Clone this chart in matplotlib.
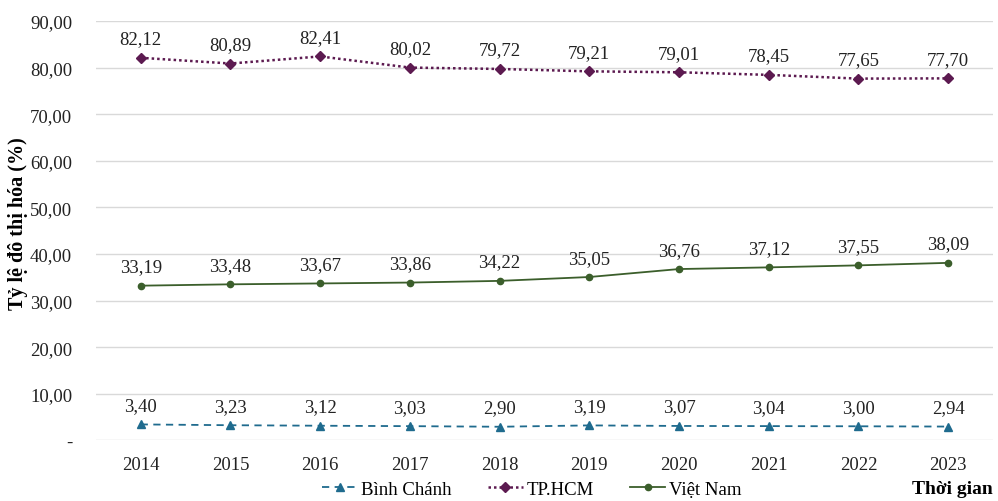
import matplotlib.pyplot as plt
import numpy as np

plt.rcParams['font.family'] = ['Liberation Serif', 'DejaVu Serif']

years = ['2014', '2015', '2016', '2017', '2018', '2019', '2020', '2021', '2022', '2023']
binh_chanh = [3.40, 3.23, 3.12, 3.03, 2.90, 3.19, 3.07, 3.04, 3.00, 2.94]
tphcm = [82.12, 80.89, 82.41, 80.02, 79.72, 79.21, 79.01, 78.45, 77.65, 77.70]
viet_nam = [33.19, 33.48, 33.67, 33.86, 34.22, 35.05, 36.76, 37.12, 37.55, 38.09]
y_ticks = [0, 10, 20, 30, 40, 50, 60, 70, 80, 90]

def fmt(v):
    return f'{v:.2f}'.replace('.', ',')

fig = plt.figure(figsize=(9.98, 5.02), dpi=100)
ax = fig.add_axes([0.096, 0.121, 0.899, 0.835])

x = np.arange(len(years))
c_bc = '#1f6b8e'
c_hcm = '#5c1a50'
c_vn = '#3b5e2b'

ax.plot(x, binh_chanh, linestyle=(0, (4, 3)), color=c_bc, marker='^', markersize=6,
        linewidth=1.3, label='Bình Chánh')
ax.plot(x, tphcm, linestyle=(0, (1, 1.2)), color=c_hcm, marker='D', markersize=5,
        linewidth=1.8, label='TP.HCM')
ax.plot(x, viet_nam, linestyle='-', color=c_vn, marker='o', markersize=4.5,
        linewidth=1.3, label='Việt Nam')

for series in (binh_chanh, tphcm, viet_nam):
    for xi, v in zip(x, series):
        ax.annotate(fmt(v), (xi, v), xytext=(0, 7.5), textcoords='offset points',
                    ha='center', va='bottom', fontsize=13.5, color='#222222')

ax.set_xlim(-0.5, len(years) - 0.5)
ax.set_ylim(0, 90)
ax.set_yticks(y_ticks)
ax.set_yticklabels(['-'] + [fmt(v) for v in y_ticks[1:]])
ax.set_xticks(x)
ax.set_xticklabels(years)
ax.tick_params(axis='both', length=0, labelsize=13.5, colors='#222222')
ax.tick_params(axis='x', pad=11)
ax.tick_params(axis='y', pad=17)
ax.grid(axis='y', color='#d9d9d9', linewidth=1)
ax.set_axisbelow(True)
for s in ax.spines.values():
    s.set_visible(False)

ax.set_ylabel('Tỷ lệ đô thị hóa (%)', fontsize=14.5, fontweight='bold')
ax.yaxis.set_label_coords(-0.076, 0.52)
fig.text(0.995, 0.024, 'Thời gian', ha='right', va='center', fontsize=14, fontweight='bold')

fig.legend(*ax.get_legend_handles_labels(), loc='center', bbox_to_anchor=(0.533, 0.024),
           ncol=3, frameon=False, fontsize=13.5, handlelength=1.9, columnspacing=1.9,
           handletextpad=0.2, borderaxespad=0)

fig.savefig('out.png', dpi=100)
